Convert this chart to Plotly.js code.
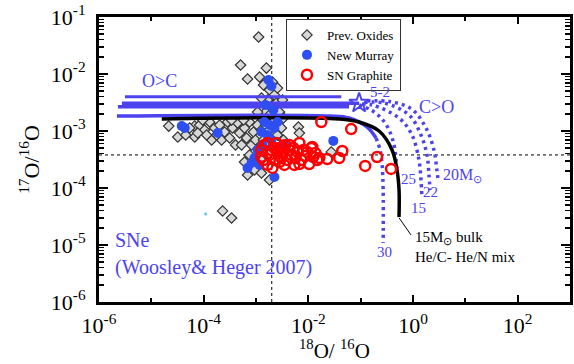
<!DOCTYPE html>
<html>
<head>
<meta charset="utf-8">
<script src="https://cdn.plot.ly/plotly-3.0.1.min.js"></script>
<style>html,body{margin:0;padding:0;background:#fff;}#chart{width:574px;height:364px;}</style>
</head>
<body>
<div id="chart"></div>
<script>
// Solar reference ratios
const solar18 = 2.0e-3;
const solar17 = 3.8e-4;

// Prev. Oxides
const oxX = [1.12e-3, 5.07e-4, 1.58e-3, 6.89e-4, 1.17e-3, 2.06e-3, 1.39e-3, 1.81e-3, 2.25e-3, 1.66e-3, 2.45e-3, 1.97e-3, 2.81e-3, 1.52e-3,
  2.15e-5, 3.2e-5, 6.74e-5, 6.74e-5,
  8.39e-5, 1.04e-4, 1.30e-4, 1.42e-4, 1.62e-4, 2.02e-4, 2.20e-4, 2.51e-4, 2.86e-4, 3.13e-4, 3.56e-4, 4.07e-4, 4.45e-4, 4.85e-4, 5.30e-4, 6.04e-4, 6.59e-4, 7.52e-4, 8.2e-4, 8.95e-4, 9.77e-4, 1.07e-3, 1.17e-3, 1.27e-3, 1.39e-3, 7.69e-5, 1.14e-4, 1.77e-4, 3.41e-4, 5.78e-4, 9.57e-5, 5.41e-5, 4.54e-5,
  1.27e-3, 1.52e-3, 1.81e-3, 2.25e-3, 2.57e-3, 3.06e-3, 3.34e-3, 1.66e-3, 2.35e-3, 2.81e-3, 1.27e-3, 1.07e-3, 9.35e-4, 1.27e-3, 1.81e-3, 6.89e-4, 6.04e-4, 3.06e-3, 1.17e-3, 7.52e-4,
  2.30e-4, 3.41e-4, 6.46e-3, 6.74e-3, 2.74e-2,
  2.57e-3, 3.2e-3, 1.27e-3, 3.34e-3, 1.81e-3, 1.07e-3];
const oxY = [4.46e-2, 1.44e-2, 1.27e-2, 8.17e-3, 8.85e-3, 7.24e-3, 6.41e-3, 5.24e-3, 4.29e-3, 3.5e-3, 3.1e-3, 2.54e-3, 2.15e-3, 2.15e-3,
  1.22e-3, 7.85e-4, 1.22e-3, 7.85e-4,
  1.27e-3, 1.04e-3, 1.44e-3, 6.95e-4, 1.13e-3, 1.27e-3, 6.95e-4, 9.6e-4, 1.44e-3, 7.53e-4, 1.13e-3, 5.7e-4, 1.38e-3, 9.2e-4, 5.7e-4, 1.13e-3, 7.53e-4, 1.44e-3, 5.7e-4, 9.6e-4, 6.95e-4, 1.27e-3, 5.04e-4, 1.04e-3, 6.95e-4, 9.2e-4, 8.5e-4, 8.5e-4, 1.56e-3, 1.56e-3, 1.56e-3, 1.13e-3, 8.5e-4,
  1.69e-3, 1.27e-3, 1.04e-3, 1.56e-3, 8.5e-4, 1.13e-3, 6.95e-4, 5.7e-4, 4.65e-4, 3.36e-4, 3.1e-4, 2.54e-4, 2.07e-4, 1.83e-4, 1.38e-4, 1.69e-4, 2.86e-4, 4.65e-4, 4.65e-4, 3.8e-4,
  3.96e-5, 2.98e-5, 1.17e-3, 9.2e-4, 4.29e-4,
  5.67e-3, 3.5e-3, 3.79e-3, 1.69e-3, 1.91e-3, 2.15e-3];

// New Murray
const nmX = [4.35e-5, 3.81e-5, 1.85e-4, 1.73e-3, 1.97e-3, 1.52e-3, 2.15e-3, 1.45e-3, 1.81e-3, 2.25e-3, 1.27e-3, 1.66e-3, 2.57e-3, 1.97e-3, 1.33e-3, 1.07e-3, 9.35e-4, 8.2e-4, 1.17e-3, 2.25e-3, 3.0e-2, 3.49e-3, 6.89e-4];
const nmY = [1.13e-3, 1.22e-3, 9.2e-4, 7.85e-3, 6.15e-3, 2.86e-3, 2.33e-3, 1.44e-3, 1.27e-3, 1.13e-3, 9.6e-4, 8.5e-4, 1.44e-3, 6.95e-4, 5.7e-4, 4.65e-4, 3.36e-4, 2.74e-4, 2.54e-4, 1.56e-4, 6.7e-4, 5.7e-4, 2.25e-4];

// SN Graphite
const gX = [1.27e-3, 1.45e-3, 1.66e-3, 1.81e-3, 1.97e-3, 2.25e-3, 2.45e-3, 2.57e-3, 2.81e-3, 3.06e-3, 3.34e-3, 3.65e-3, 3.98e-3, 4.35e-3, 4.74e-3, 5.18e-3, 5.65e-3, 6.17e-3, 6.74e-3, 7.36e-3, 8.04e-3, 8.77e-3, 9.57e-3, 1.04e-2, 1.14e-2, 1.24e-2, 1.36e-2, 1.48e-2, 1.62e-2, 1.39e-3, 1.66e-3, 2.06e-3, 3.49e-3, 5.41e-3, 1.27e-3, 2.81e-3, 4.35e-3, 6.74e-3, 2.25e-3, 3.2e-3,
  1.77e-2, 6.59e-2, 2.30e-2, 3.89e-2, 4.45e-2, 0.122, 0.206, 0.381, 1.19e-2];
const gY = [4.65e-4, 5.7e-4, 6.15e-4, 3.8e-4, 4.65e-4, 3.1e-4, 6.15e-4, 4.29e-4, 5.04e-4, 3.36e-4, 4.12e-4, 5.7e-4, 3.1e-4, 4.65e-4, 3.8e-4, 5.04e-4, 3.36e-4, 4.29e-4, 6.15e-4, 3.1e-4, 4.65e-4, 3.64e-4, 4.29e-4, 2.64e-4, 5.04e-4, 3.5e-4, 4.12e-4, 3.1e-4, 3.36e-4, 3.1e-4, 2.54e-4, 2.25e-4, 2.54e-4, 2.54e-4, 3.5e-4, 2.86e-4, 5.7e-4, 2.64e-4, 5.04e-4, 5.24e-4,
  1.44e-3, 1.08e-3, 3.23e-4, 3.36e-4, 4.46e-4, 2.44e-4, 3.5e-4, 2.16e-4, 5.24e-4];

// Odd single point (cyan)
const cyanX = [1.09e-4];
const cyanY = [3.5e-5];

// SN model mixing lines (Woosley & Heger 2007), O>C solid parts
const snL1X = [3.13e-6, 0.0426], snL1Y = [4.0e-3, 4.0e-3];
const snL2X = [2.74e-6, 0.0935], snL2Y = [3.06e-3, 3.06e-3];
const snL3X = [2.30e-6, 0.060], snL3Y = [2.67e-3, 2.67e-3];
const snL4X = [2.2e-6, 0.0251, 0.060, 0.133, 0.197], snL4Y = [1.83e-3, 1.83e-3, 1.69e-3, 1.17e-3, 7.53e-4];
// C>O dotted parts
const d30X = [0.197, 0.235, 0.257, 0.269, 0.269], d30Y = [7.53e-4, 4.65e-4, 2.54e-4, 9.2e-5, 1.08e-5];
const d25X = [0.0935, 0.158, 0.245, 0.349, 0.434, 0.475, 0.495], d25Y = [2.86e-3, 2.33e-3, 1.69e-3, 1.04e-3, 5.7e-4, 3.1e-4, 1.91e-4];
const d15X = [0.107, 0.166, 0.541, 0.957, 1.30, 1.42, 1.48], d15Y = [2.98e-3, 2.86e-3, 1.69e-3, 8.5e-4, 3.1e-4, 1.38e-4, 6.95e-5];
const d22X = [0.117, 0.281, 0.84, 1.42, 1.85, 2.02, 2.11], d22Y = [3.15e-3, 3.1e-3, 1.91e-3, 8.5e-4, 3.8e-4, 1.69e-4, 9.2e-5];
const d20X = [0.133, 0.349, 0.957, 1.77, 2.51, 2.86, 2.99], d20Y = [3.36e-3, 3.3e-3, 2.4e-3, 1.13e-3, 4.65e-4, 2.07e-4, 1.50e-4];
const starX = [0.0935], starY = [3.1e-3];
// 15 Msun bulk He/C - He/N mix
const bulkX = [1.58e-5, 0.0389, 0.0935, 0.225, 0.398, 0.495, 0.541, 0.541];
const bulkY = [1.63e-3, 1.63e-3, 1.44e-3, 1.0e-3, 4.65e-4, 2.07e-4, 9.2e-5, 3.1e-5];
const leaderX = [0.541, 0.916], leaderY = [3.0e-5, 1.5e-5];

// Axis ticks
const xTickVals = [1e-6, 1e-4, 1e-2, 1, 1e2];
const xTickText = ['10<sup>-6</sup>', '10<sup>-4</sup>', '10<sup>-2</sup>', '10<sup>0</sup>', '10<sup>2</sup>'];
const xMinorVals = [1e-5, 1e-3, 1e-1, 1e1, 1e3];
const yTickVals = [1e-6, 1e-5, 1e-4, 1e-3, 1e-2, 1e-1];
const yTickText = ['10<sup>-6</sup>', '10<sup>-5</sup>', '10<sup>-4</sup>', '10<sup>-3</sup>', '10<sup>-2</sup>', '10<sup>-1</sup>'];

const BLUE = '#4c43ef';
const MURRAY = '#2d4ff2';
const SERIF = '"Liberation Serif", "Times New Roman", Times, serif';

function line(x, y, w, dash, color, shape) {
  return {x: x, y: y, mode: 'lines', showlegend: false, hoverinfo: 'skip',
    line: {color: color || BLUE, width: w, dash: dash || 'solid', shape: shape || 'linear'}};
}

const traces = [
  line([1e-6, 1e3], [solar17, solar17], 1, 'dot', '#000'),
  line([solar18, solar18], [1e-6, 1e-1], 1, 'dot', '#000'),
  {x: oxX, y: oxY, mode: 'markers', name: 'Prev. Oxides', type: 'scatter',
    marker: {symbol: 'diamond', size: 8, color: '#d8d8d8', line: {color: '#333', width: 1.2}}},
  {x: cyanX, y: cyanY, mode: 'markers', showlegend: false, marker: {size: 3, color: '#5ec8f2'}},
  line(snL1X, snL1Y, 3),
  line(snL2X, snL2Y, 3.5),
  line(snL3X, snL3Y, 3.5),
  line(snL4X, snL4Y, 3.5, 'solid', BLUE, 'spline'),
  line(d30X, d30Y, 3.5, '3px,4px', BLUE, 'spline'),
  line(d25X, d25Y, 3.5, '3px,4px', BLUE, 'spline'),
  line(d15X, d15Y, 3.5, '3px,4px', BLUE, 'spline'),
  line(d22X, d22Y, 3.5, '3px,4px', BLUE, 'spline'),
  line(d20X, d20Y, 3.5, '3px,4px', BLUE, 'spline'),
  line(bulkX, bulkY, 3.5, 'solid', '#000', 'spline'),
  line(leaderX, leaderY, 1, 'solid', '#000'),
  {x: starX, y: starY, mode: 'markers', showlegend: false,
    marker: {symbol: 'star-open', size: 15, color: BLUE, line: {color: BLUE, width: 2}}},
  {x: nmX, y: nmY, mode: 'markers', name: 'New Murray',
    marker: {symbol: 'circle', size: 10, color: MURRAY, line: {width: 0}}},
  {x: gX, y: gY, mode: 'markers', name: 'SN Graphite',
    marker: {symbol: 'circle-open', size: 10, color: '#ff0000', line: {color: '#ff0000', width: 2.5}}}
];

function ann(lx, ly, text, size, color, xanchor) {
  return {x: lx, y: ly, xref: 'x', yref: 'y', text: text, showarrow: false,
    xanchor: xanchor || 'center', yanchor: 'middle',
    font: {family: SERIF, size: size, color: color || BLUE}};
}

const annotations = [
  ann(-4.838, -2.123, 'O&gt;C', 18),
  ann(0.457, -2.579, 'C&gt;O', 18),
  ann(-0.64, -2.32, '5-2', 15),
  ann(-0.095, -3.842, '25', 15),
  ann(0.343, -4.07, '22', 15),
  ann(0.114, -4.351, '15', 15),
  ann(-0.552, -5.123, '30', 15),
  ann(0.952, -3.789, '20M<sub>⊙</sub>', 16),
  ann(0.0, -4.877, '15M<sub>⊙</sub> bulk', 15, '#000', 'left'),
  ann(0.0, -5.211, 'He/C- He/N mix', 15, '#000', 'left'),
  ann(-5.733, -4.912, 'SNe', 20, BLUE, 'left'),
  ann(-5.733, -5.386, '(Woosley&amp; Heger 2007)', 20, BLUE, 'left'),
  {x: 0.5, y: -0.165, xref: 'paper', yref: 'paper', xanchor: 'center', yanchor: 'middle',
    showarrow: false, borderpad: 0, text: '<sup>18</sup>O/ <sup>16</sup>O', font: {family: SERIF, size: 21, color: '#000'}}
];

const axisCommon = {
  type: 'log', showgrid: false, zeroline: false,
  showline: true, linewidth: 3, linecolor: '#000', mirror: 'ticks',
  ticks: 'inside', tickcolor: '#000',
  tickfont: {family: SERIF, size: 22, color: '#000'}
};

const layout = {
  width: 574, height: 364,
  margin: {l: 99, r: 4, t: 17, b: 62},
  paper_bgcolor: '#fff', plot_bgcolor: '#fff',
  font: {family: SERIF, color: '#000'},
  xaxis: Object.assign({}, axisCommon, {
    range: [-6, 3], tickmode: 'array', tickvals: xTickVals, ticktext: xTickText,
    ticklen: 7, tickwidth: 2, ticklabelstandoff: 2,
    minor: {tickmode: 'array', tickvals: xMinorVals, ticks: 'inside', ticklen: 4, tickwidth: 2, tickcolor: '#000', showgrid: false}
  }),
  yaxis: Object.assign({}, axisCommon, {
    range: [-6, -1], tickmode: 'array', tickvals: yTickVals, ticktext: yTickText,
    ticklen: 9, tickwidth: 2, ticklabelstandoff: 6,
    minor: {dtick: 'D1', ticks: 'inside', ticklen: 5, tickwidth: 1.5, tickcolor: '#000', showgrid: false},
    title: {text: '<sup>17</sup>O/<sup>16</sup>O', font: {family: SERIF, size: 22, color: '#000'}, standoff: 6}
  }),
  legend: {x: 0.397, y: 0.993, xanchor: 'left', yanchor: 'top',
    bgcolor: '#fff', bordercolor: '#333', borderwidth: 1,
    font: {family: SERIF, size: 13, color: '#000'},
    itemwidth: 30, tracegroupgap: 0},
  annotations: annotations,
  showlegend: true
};

Plotly.newPlot('chart', traces, layout, {displayModeBar: false, staticPlot: true});
</script>
</body>
</html>
